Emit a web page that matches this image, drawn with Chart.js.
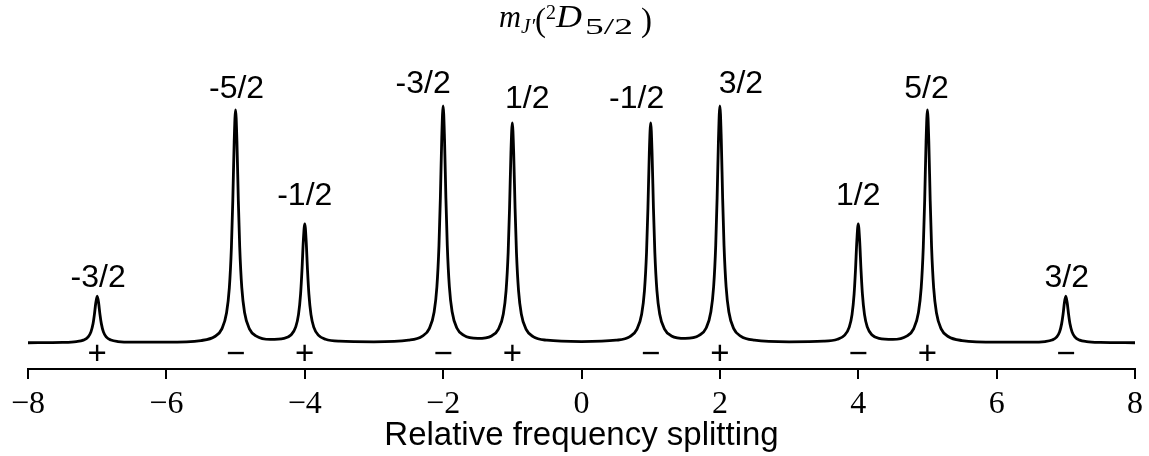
<!DOCTYPE html>
<html><head><meta charset="utf-8">
<script src="https://cdn.jsdelivr.net/npm/chart.js@4.4.0/dist/chart.umd.min.js"></script>
<style>html,body{margin:0;padding:0;background:#fff;}#wrap{width:1149px;height:456px;}</style>
</head><body><div id="wrap"><canvas id="c" width="1149" height="456"></canvas></div>
<script>
// ---- data ----
const freq = [-8,-7.5,-7.3,-7.2,-7.13,-7.09,-7.06,-7.04,-7.02,-7,
  -6.98,-6.96,-6.94,-6.91,-6.87,-6.8,-6.7,-6.5,-6,
  -5.5,-5.3,-5.2,-5.13,-5.09,-5.06,-5.04,-5.02,-5,
  -4.98,-4.96,-4.94,-4.91,-4.87,-4.8,-4.7,-4.5,
  -4.3,-4.2,-4.13,-4.09,-4.06,-4.04,-4.02,-4,
  -3.98,-3.96,-3.94,-3.91,-3.87,-3.8,-3.7,-3.5,-3,
  -2.5,-2.3,-2.2,-2.13,-2.09,-2.06,-2.04,-2.02,-2,
  -1.98,-1.96,-1.94,-1.91,-1.87,-1.8,-1.7,-1.5,
  -1.3,-1.2,-1.13,-1.09,-1.06,-1.04,-1.02,-1,
  -0.98,-0.96,-0.94,-0.91,-0.87,-0.8,-0.7,-0.5,0,
  0.5,0.7,0.8,0.87,0.91,0.94,0.96,0.98,1,
  1.02,1.04,1.06,1.09,1.13,1.2,1.3,1.5,
  1.7,1.8,1.87,1.91,1.94,1.96,1.98,2,
  2.02,2.04,2.06,2.09,2.13,2.2,2.3,2.5,
  3,3.5,3.7,3.8,3.87,3.91,3.94,3.96,3.98,4,
  4.02,4.04,4.06,4.09,4.13,4.2,4.3,4.5,
  4.7,4.8,4.87,4.91,4.94,4.96,4.98,5,
  5.02,5.04,5.06,5.09,5.13,5.2,5.3,5.5,
  6,6.5,6.7,6.8,6.87,6.91,6.94,6.96,6.98,7,
  7.02,7.04,7.06,7.09,7.13,7.2,7.3,7.5,8];
const intensity = [0.001,0.0024,0.0058,0.0121,0.026,0.047,0.081,0.121,0.170,0.198,
  0.171,0.121,0.082,0.047,0.026,0.0124,0.0062,0.0033,0.0033,
  0.0105,0.0274,0.0588,0.128,0.233,0.405,0.602,0.850,0.986,
  0.850,0.602,0.406,0.234,0.129,0.060,0.0292,0.0152,
  0.0194,0.034,0.068,0.121,0.208,0.309,0.435,0.504,
  0.434,0.308,0.207,0.120,0.067,0.032,0.016,0.0076,0.005,
  0.0118,0.029,0.061,0.131,0.238,0.412,0.612,0.864,1.003,
  0.864,0.613,0.413,0.239,0.132,0.0625,0.032,0.0195,
  0.030,0.059,0.123,0.222,0.383,0.569,0.803,0.931,
  0.803,0.569,0.383,0.222,0.123,0.058,0.027,0.0117,0.0058,
  0.0117,0.027,0.058,0.123,0.222,0.383,0.569,0.803,0.931,
  0.803,0.569,0.383,0.222,0.123,0.059,0.030,0.0195,
  0.032,0.0625,0.132,0.239,0.413,0.613,0.864,1.003,
  0.864,0.612,0.412,0.238,0.131,0.061,0.029,0.0118,
  0.005,0.0076,0.016,0.032,0.067,0.120,0.207,0.308,0.434,0.504,
  0.435,0.309,0.208,0.121,0.068,0.034,0.0194,0.0152,
  0.0292,0.060,0.129,0.234,0.406,0.602,0.850,0.986,
  0.850,0.602,0.405,0.233,0.128,0.0588,0.0274,0.0105,
  0.0033,0.0033,0.0062,0.0124,0.026,0.047,0.082,0.121,0.171,0.198,
  0.170,0.121,0.081,0.047,0.026,0.0121,0.0058,0.0024,0.001];
const peakPositions = [-7,-5,-4,-2,-1,1,2,4,5,7];
const peakHeights   = [0.198,0.986,0.504,1.003,0.931,0.931,1.003,0.504,0.986,0.198];
const peakLabels    = ['-3/2','-5/2','-1/2','-3/2','1/2','-1/2','3/2','1/2','5/2','3/2'];
const peakSigns     = ['+','\u2212','+','\u2212','+','\u2212','+','\u2212','+','\u2212'];
const tickValues    = [-8,-6,-4,-2,0,2,4,6,8];
const tickLabels    = ['\u22128','\u22126','\u22124','\u22122','0','2','4','6','8'];
const xTitle        = 'Relative frequency splitting';

// ---- presentation ----
const labelDx  = [1,1,0,-20,15,-14,21,0,-1,1];
const labelGap = [9,12,19,13,15,15,13,19,12,9];

const annotate = {
  id: 'annotate',
  afterDatasetsDraw(chart) {
    const c = chart.ctx, xs = chart.scales.x, ys = chart.scales.y;
    c.save();
    c.fillStyle = '#000';
    c.font = '32px "Liberation Sans", Arial, sans-serif';
    c.textAlign = 'center'; c.textBaseline = 'alphabetic';
    peakPositions.forEach((p, i) => {
      const px = xs.getPixelForValue(p) + labelDx[i];
      const py = ys.getPixelForValue(peakHeights[i]) - labelGap[i];
      c.fillText(peakLabels[i], px, py);
    });
    c.font = '33px "Liberation Sans", Arial, sans-serif';
    c.textBaseline = 'middle';
    peakPositions.forEach((p, i) => {
      c.fillText(peakSigns[i], xs.getPixelForValue(p), xs.top - 14);
    });
    // title m_J'(^2 D_5/2)
    const pieces = [
      {t:'m',   f:'italic 31px "Liberation Serif"', x:499, y:27, w:22},
      {t:'J\u2032', f:'italic 21px "Liberation Serif"', x:521, y:33, w:14},
      {t:'(',   f:'34px "Liberation Serif"', x:535, y:31, w:11},
      {t:'2',   f:'20px "Liberation Serif"', x:546, y:19, w:10},
      {t:'D',   f:'italic 31px "Liberation Serif"', x:556, y:27, w:26},
      {t:'5/2', f:'24px "Liberation Serif"', x:585, y:34, w:48},
      {t:')',   f:'34px "Liberation Serif"', x:641, y:31, w:11}
    ];
    c.textAlign = 'left'; c.textBaseline = 'alphabetic';
    pieces.forEach(pc => {
      c.font = pc.f;
      const sx = pc.w / c.measureText(pc.t).width;
      c.save(); c.translate(pc.x, pc.y); c.scale(sx, 1); c.fillText(pc.t, 0, 0); c.restore();
    });
    c.restore();
  }
};

new Chart(document.getElementById('c'), {
  type: 'line',
  data: { datasets: [{
    data: freq.map((x, i) => ({x: x, y: intensity[i]})),
    borderColor: '#000', borderWidth: 2.8, pointRadius: 0, fill: false,
    cubicInterpolationMode: 'monotone', borderJoinStyle: 'round', borderCapStyle: 'round'
  }]},
  options: {
    responsive: false, animation: false, devicePixelRatio: 1,
    layout: { padding: { left: 28, right: 14, top: 83, bottom: 0 } },
    plugins: { legend: { display: false }, tooltip: { enabled: false } },
    scales: {
      x: {
        type: 'linear', min: -8, max: 8,
        afterBuildTicks: s => { s.ticks = tickValues.map(v => ({ value: v })); },
        ticks: {
          callback: v => tickLabels[tickValues.indexOf(v)],
          font: { family: '"Liberation Serif", "Times New Roman", serif', size: 32 },
          color: '#000', padding: 6, maxRotation: 0, autoSkip: false
        },
        grid: { display: true, drawOnChartArea: false, drawTicks: true, tickLength: 10, color: '#000', lineWidth: 2 },
        border: { display: true, color: '#000', width: 2 },
        title: { display: true, text: xTitle, color: '#000',
          font: { family: '"Liberation Sans", Arial, sans-serif', size: 33 }, padding: { top: 0, bottom: 0 } },
        afterFit: s => { s.height = 87; }
      },
      y: { display: false, min: -0.11, max: 1.1 }
    }
  },
  plugins: [annotate]
});
</script></body></html>
